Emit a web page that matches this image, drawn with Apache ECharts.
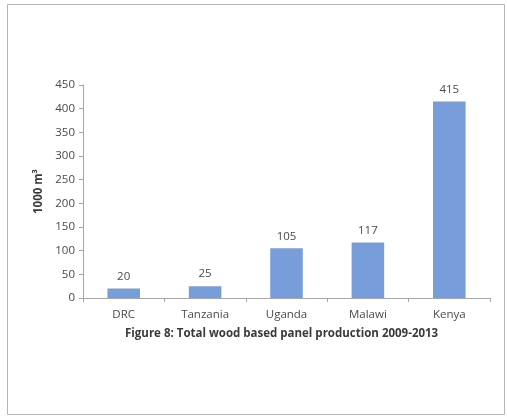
<!DOCTYPE html>
<html>
<head>
<meta charset="utf-8">
<script src="https://cdn.jsdelivr.net/npm/echarts@6/dist/echarts.min.js"></script>
<style>
  html, body { margin: 0; padding: 0; background: #ffffff; }
  #chart { width: 507px; height: 418px; }
</style>
</head>
<body>
<div id="chart"></div>
<script>
// Wood based panel production by country (1000 m³)
const countries = ['DRC', 'Tanzania', 'Uganda', 'Malawi', 'Kenya'];
const production = [20, 25, 105, 117, 415];
const yTicks = { min: 0, max: 450, interval: 50 };

const chart = echarts.init(document.getElementById('chart'));
const textFont = '"Open Sans", "Liberation Sans", sans-serif';

chart.setOption({
  animation: false,
  backgroundColor: '#ffffff',
  grid: { left: 83, right: 17, top: 85, bottom: 120 },
  graphic: [
    {
      type: 'rect',
      shape: { x: 7.5, y: 4.5, width: 497, height: 410 },
      style: { fill: 'none', stroke: '#b5b5b5', lineWidth: 1 }
    },
    {
      type: 'text',
      left: 125,
      top: 328,
      style: {
        text: 'Figure 8: Total wood based panel production 2009-2013',
        font: 'bold 11.5px ' + textFont,
        fill: '#3a3a3a'
      }
    }
  ],
  xAxis: {
    type: 'category',
    data: countries,
    axisLine: { lineStyle: { color: '#a6a6a6' } },
    axisTick: { show: true, alignWithLabel: false, length: 4, lineStyle: { color: '#a6a6a6' } },
    axisLabel: { color: '#4a4a4a', fontSize: 11.5, fontFamily: textFont, margin: 11 }
  },
  yAxis: {
    type: 'value',
    min: yTicks.min,
    max: yTicks.max,
    interval: yTicks.interval,
    name: '1000 m³',
    nameLocation: 'middle',
    nameRotate: 90,
    nameGap: 36,
    nameTextStyle: { color: '#3a3a3a', fontSize: 11.5, fontWeight: 'bold', fontFamily: textFont },
    axisLine: { show: true, lineStyle: { color: '#a6a6a6' } },
    axisTick: { show: true, length: 4, lineStyle: { color: '#a6a6a6' } },
    splitLine: { show: false },
    axisLabel: { color: '#4a4a4a', fontSize: 11.5, fontFamily: textFont, margin: 8 }
  },
  series: [{
    type: 'bar',
    data: production,
    barWidth: '40%',
    itemStyle: { color: '#779ddb' },
    label: {
      show: true,
      position: 'top',
      distance: 6,
      color: '#4a4a4a',
      fontSize: 11.5,
      fontFamily: textFont
    }
  }]
});
</script>
</body>
</html>
